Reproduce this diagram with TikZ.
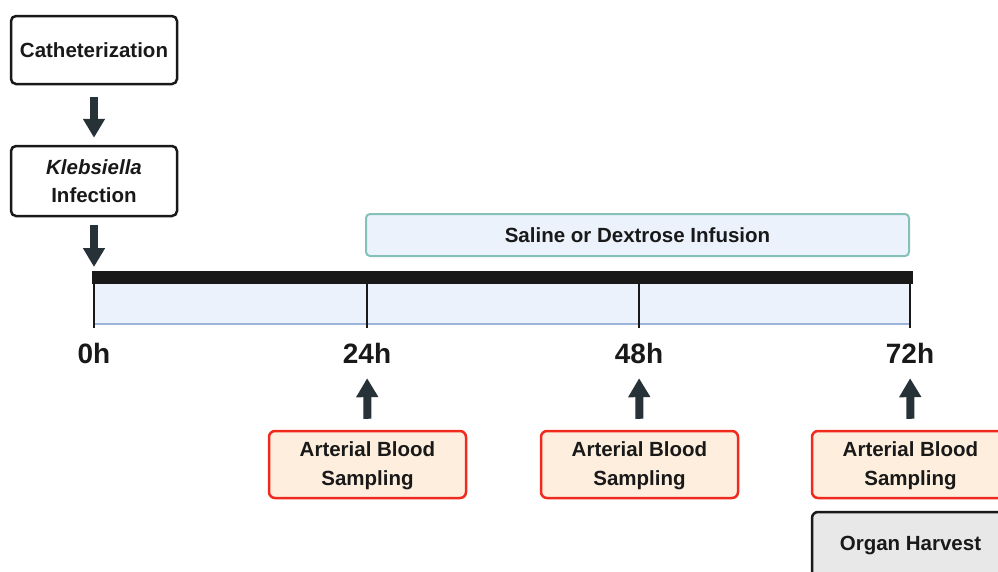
\documentclass[tikz,border=0pt]{standalone}
\usepackage{fontspec}
\setmainfont{Liberation Sans}
\usetikzlibrary{arrows.meta}
\definecolor{arrowc}{HTML}{263238}
\definecolor{bluefill}{HTML}{EBF2FB}
\definecolor{blueline}{HTML}{9DB3DC}
\definecolor{tealline}{HTML}{86C1B7}
\definecolor{redline}{HTML}{F02A1F}
\definecolor{peach}{HTML}{FDEEDD}
\definecolor{greyfill}{HTML}{E8E8E8}
\tikzset{
  every node/.style={font=\fontsize{20.5}{28}\selectfont\bfseries, text=black!90},
  stepbox/.style={draw=black!90, line width=2.5pt, rounded corners=5pt, fill=white, align=center, minimum width=166pt, inner sep=0pt},
  infbox/.style={draw=tealline, line width=2pt, rounded corners=4pt, fill=bluefill, minimum width=543pt, minimum height=42pt, inner sep=0pt},
  sampbox/.style={draw=redline, line width=2.5pt, rounded corners=6pt, fill=peach, align=center, minimum width=197pt, minimum height=67pt, inner sep=0pt, font=\fontsize{20.5}{29}\selectfont\bfseries},
  harvbox/.style={draw=black!90, line width=2.5pt, rounded corners=6pt, fill=greyfill, minimum width=197pt, minimum height=68pt, inner sep=0pt},
  hour/.style={font=\fontsize{28}{30}\selectfont\bfseries, inner sep=0pt, text height=21pt, text depth=0pt, anchor=base},
  fatarrow/.style={draw=arrowc, line width=8pt, -{Triangle[width=21pt,length=19pt,fill=arrowc]}},
  tick/.style={draw=black!90, line width=2.5pt},
}
\begin{document}
\begin{tikzpicture}[x=1pt,y=-1pt]
\useasboundingbox (0,0) rectangle (998,571);
\clip (0,0) rectangle (998,571);
% timeline
\fill[bluefill] (94,283) rectangle (910,325);
\draw[blueline, line width=2.5pt] (94,324) -- (910,324);
\fill[black!90] (92,271) rectangle (913,283.5);
\foreach \n/\x in {0/94,1/367,2/639,3/910}{
  \coordinate (top\n) at (\x,283);
  \coordinate (bot\n) at (\x,328);
  \draw[tick] (top\n) -- (bot\n);
}
\coordinate (start) at (94,271);
\node[hour] (h0) at (94,363) {0h};
\node[hour] (h1) at (367,363) {24h};
\node[hour] (h2) at (639,363) {48h};
\node[hour] (h3) at (910,363) {72h};
% top boxes
\node[stepbox, minimum height=68pt] (cath) at (94,50) {Catheterization};
\node[stepbox, minimum height=70pt] (kleb) at (94,181) {\textit{Klebsiella}\\Infection};
\draw[fatarrow, shorten <=12pt, shorten >=7pt] (cath.south) -- (kleb.north);
\draw[fatarrow, shorten <=8pt, shorten >=4pt] (kleb.south) -- (start);
% infusion
\node[infbox] (inf) at (637.5,235) {Saline or Dextrose Infusion};
% sampling
\node[sampbox] (s1) at (367.5,464.5) {\rule{0pt}{18pt}Arterial Blood\\Sampling};
\node[sampbox] (s2) at (639.5,464.5) {\rule{0pt}{18pt}Arterial Blood\\Sampling};
\node[sampbox] (s3) at (910.5,464.5) {\rule{0pt}{18pt}Arterial Blood\\Sampling};
\node[harvbox] (harv) at (910.5,546) {Organ Harvest};
\foreach \i in {1,2,3}{
  \draw[fatarrow, shorten <=11pt, shorten >=15pt] (s\i.north) -- (h\i.south);
}
\end{tikzpicture}
\end{document}
